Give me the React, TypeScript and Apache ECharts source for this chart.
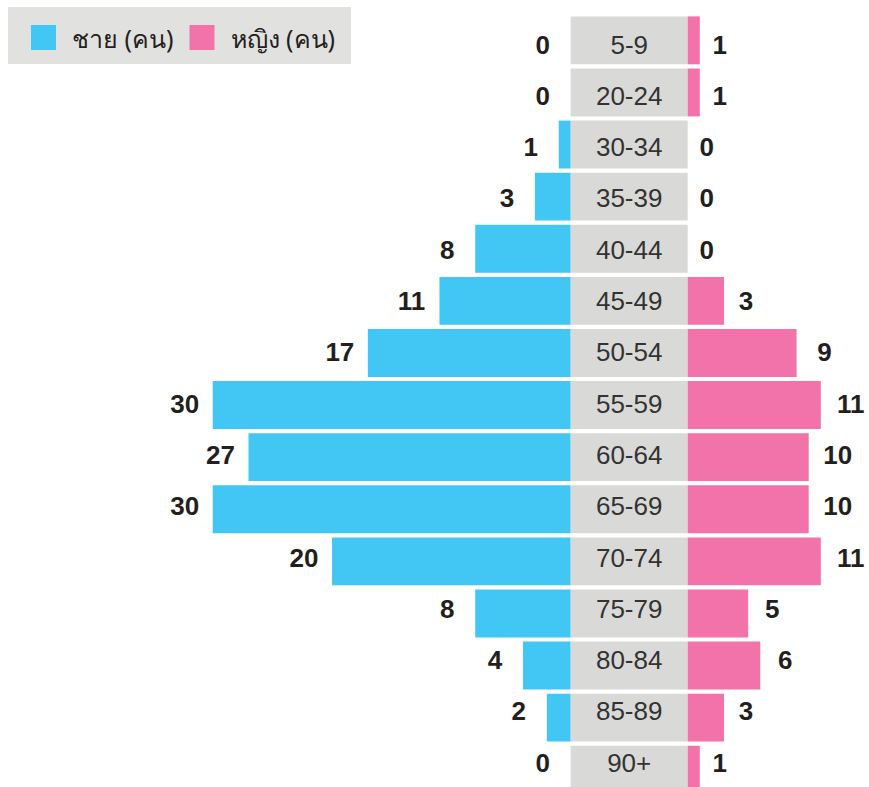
import React, { useEffect, useRef } from "react";
import * as echarts from "echarts";

const ageGroups = ["5-9", "20-24", "30-34", "35-39", "40-44", "45-49", "50-54", "55-59", "60-64", "65-69", "70-74", "75-79", "80-84", "85-89", "90+"];
const maleValues = [0, 0, 1, 3, 8, 11, 17, 30, 27, 30, 20, 8, 4, 2, 0];
const femaleValues = [1, 1, 0, 0, 0, 3, 9, 11, 10, 10, 11, 5, 6, 3, 1];
const maleName = "ชาย (คน)";
const femaleName = "หญิง (คน)";

const BLUE = "#42c7f4";
const PINK = "#f173aa";
const GRAY = "#d9d9d8";

export default function App() {
  const ref = useRef<HTMLDivElement>(null);
  useEffect(() => {
    if (!ref.current) return;
    const chart = echarts.init(ref.current, null, { renderer: "svg" });
    // bar layout
    const top = 14.3;
    const height = 52.1 * ageGroups.length;
    // label layout (labels sit on a slightly tighter row pitch in the reference)
    const lTop = 18.85;
    const lHeight = 51.3 * ageGroups.length;

    const catAxis = (gi: number) => ({
      type: "category",
      gridIndex: gi,
      data: ageGroups,
      inverse: true,
      show: false,
    });
    const valueLabel = {
      show: true,
      fontSize: 26,
      fontWeight: "bold",
      color: "#231f20",
      fontFamily: "Liberation Sans, Arial, sans-serif",
      align: "center",
    };
    const hidden = { color: "rgba(0,0,0,0)" };
    chart.setOption({
      animation: false,
      legend: {
        left: 8,
        top: 7,
        orient: "horizontal",
        backgroundColor: "#e1e1e0",
        padding: [18, 16, 14, 23],
        itemWidth: 25,
        itemHeight: 25,
        itemGap: 16,
        icon: "rect",
        formatter: (name: string) => `{t|${name}}`,
        textStyle: {
          fontSize: 25,
          color: "#231f20",
          fontFamily: "Noto Sans, sans-serif",
          rich: {
            t: {
              fontSize: 25,
              color: "#231f20",
              fontFamily: "Noto Sans, sans-serif",
              padding: [0, 0, 0, 11],
            },
          },
        },
        data: [maleName, femaleName],
      },
      grid: [
        { left: 212.7, right: 298.3, top, height },
        { left: 570.7, width: 117, top, height },
        { left: 687.7, width: 133.1, top, height },
        { left: 212.7, right: 298.3, top: lTop, height: lHeight },
        { left: 570.7, width: 117, top: lTop, height: lHeight },
        { left: 687.7, width: 133.1, top: lTop, height: lHeight },
      ],
      xAxis: [
        { type: "value", gridIndex: 0, min: 0, max: 30, inverse: true, show: false },
        { type: "value", gridIndex: 1, min: 0, max: 1, show: false },
        { type: "value", gridIndex: 2, min: 0, max: 11, show: false },
        { type: "value", gridIndex: 3, min: 0, max: 30, inverse: true, show: false },
        { type: "value", gridIndex: 4, min: 0, max: 1, show: false },
        { type: "value", gridIndex: 5, min: 0, max: 11, show: false },
      ],
      yAxis: [catAxis(0), catAxis(1), catAxis(2), catAxis(3), catAxis(4), catAxis(5)],
      series: [
        {
          name: maleName,
          type: "bar",
          xAxisIndex: 0,
          yAxisIndex: 0,
          data: maleValues,
          barCategoryGap: "8%",
          itemStyle: { color: BLUE },
        },
        {
          name: "ageBand",
          type: "bar",
          xAxisIndex: 1,
          yAxisIndex: 1,
          data: ageGroups.map(() => 1),
          barCategoryGap: "8%",
          itemStyle: { color: GRAY },
          silent: true,
        },
        {
          name: femaleName,
          type: "bar",
          xAxisIndex: 2,
          yAxisIndex: 2,
          data: femaleValues,
          barCategoryGap: "8%",
          itemStyle: { color: PINK },
        },
        {
          name: "maleLabels",
          type: "bar",
          xAxisIndex: 3,
          yAxisIndex: 3,
          data: maleValues,
          barCategoryGap: "8%",
          itemStyle: hidden,
          silent: true,
          label: { ...valueLabel, position: "left", distance: 28 },
        },
        {
          name: "ageLabels",
          type: "bar",
          xAxisIndex: 4,
          yAxisIndex: 4,
          data: ageGroups.map(() => 1),
          barCategoryGap: "8%",
          itemStyle: hidden,
          silent: true,
          label: {
            show: true,
            position: "inside",
            formatter: (p: any) => ageGroups[p.dataIndex],
            fontSize: 26,
            color: "#333333",
            fontFamily: "Liberation Sans, Arial, sans-serif",
          },
        },
        {
          name: "femaleLabels",
          type: "bar",
          xAxisIndex: 5,
          yAxisIndex: 5,
          data: femaleValues.map((v) => ({
            value: v,
            label: { distance: 19 + v },
          })),
          barCategoryGap: "8%",
          itemStyle: hidden,
          silent: true,
          label: { ...valueLabel, position: "right", distance: 24 },
        },
      ],
    });
    return () => chart.dispose();
  }, []);
  return (
    <div style={{ width: 869, height: 787, position: "absolute", left: 0, top: 0, overflow: "hidden" }}>
      <div ref={ref} style={{ width: 869, height: 810 }} />
    </div>
  );
}
